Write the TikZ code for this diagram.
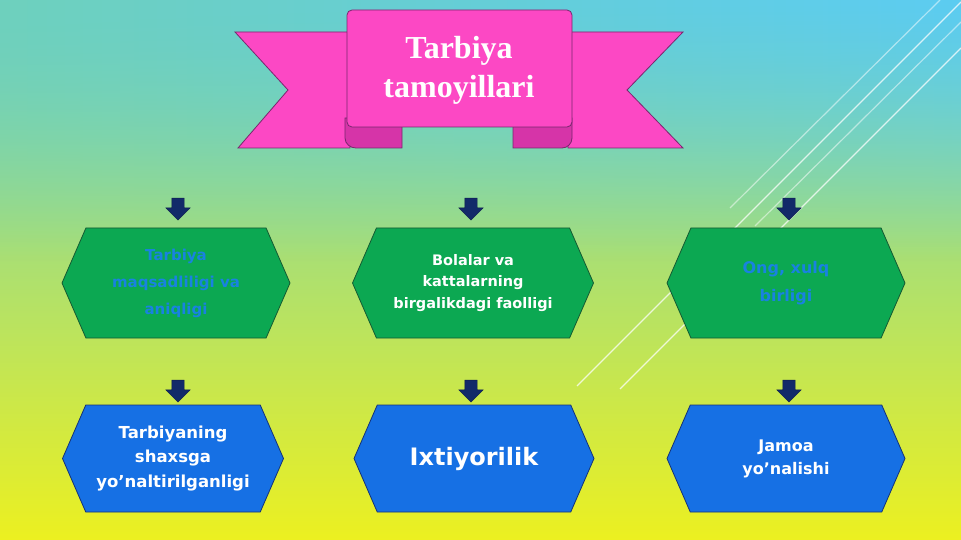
\documentclass[tikz,border=0pt]{standalone}
\usepackage{fontspec}
\setmainfont{Liberation Serif}
\setsansfont{DejaVu Sans}
\usetikzlibrary{shapes,arrows,positioning,calc,fadings}

\definecolor{bannerpink}{RGB}{252,72,196}
\definecolor{bannerfold}{RGB}{214,52,168}
\definecolor{banneredge}{RGB}{120,40,110}
\definecolor{hexgreen}{RGB}{12,168,82}
\definecolor{hexgreenedge}{RGB}{20,90,50}
\definecolor{hexblue}{RGB}{22,112,228}
\definecolor{hexblueedge}{RGB}{20,50,120}
\definecolor{arrownavy}{RGB}{18,42,105}
\definecolor{faintblue}{RGB}{25,130,225}
\definecolor{bgtopleft}{RGB}{110,208,190}
\definecolor{bgtopright}{RGB}{92,204,242}
\definecolor{bgmid}{RGB}{172,228,140}
\definecolor{bgbot}{RGB}{236,240,32}

\tikzset{
  hexbox/.style={signal, signal to=west and east, signal pointer angle=133,
    minimum height=110, inner sep=0, align=center, line width=0.8pt,
    font=\sffamily\bfseries},
  greenbox/.style={hexbox, fill=hexgreen, draw=hexgreenedge},
  bluebox/.style={hexbox, fill=hexblue, draw=hexblueedge, text=white, minimum height=107},
  downarrow/.style={single arrow, shape border rotate=270, fill=arrownavy,
    draw=arrownavy!70!black, minimum height=22, minimum width=24,
    single arrow head extend=6, inner sep=6pt},
  deco/.style={white, line width=1.2pt, opacity=0.75}
}

\begin{document}
\begin{tikzpicture}[x=1pt,y=-1pt]
    \useasboundingbox (0,0) rectangle (961,540);
    % background
    \shade[top color=bgtopleft, middle color=bgmid, bottom color=bgbot] (0,0) rectangle (961,540);
    \shade[left color=bgtopleft, right color=bgtopright, path fading=south] (0,0) rectangle (961,260);
    \draw[deco] (961,2) -- (577,386);
    \draw[deco] (961,48) -- (620,389);
    \draw[deco, opacity=.5] (940,0) -- (730,208);
    \draw[deco, opacity=.5] (961,22) -- (755,226);

    % banner
    \draw[fill=bannerpink, draw=banneredge, line width=0.8pt] (350,32) -- (235,32) -- (288,90) -- (238,148) -- (350,148) -- cycle;
    \draw[fill=bannerpink, draw=banneredge, line width=0.8pt] (568,32) -- (683,32) -- (627,90) -- (683,148) -- (568,148) -- cycle;
    \draw[fill=bannerfold, draw=banneredge, line width=0.8pt] (402,118) -- (402,148) -- (356,148) to[out=180,in=270] (345,138) -- (345,118) -- cycle;
    \draw[fill=bannerfold, draw=banneredge, line width=0.8pt] (513,118) -- (513,148) -- (562,148) to[out=0,in=270] (572,138) -- (572,118) -- cycle;
    \draw[fill=bannerpink, draw=banneredge, line width=0.8pt, rounded corners=5] (347,10) rectangle (572,127);
    \node[text=white, font=\fontsize{32}{39}\selectfont\bfseries, align=center] (title) at (459,70) {Tarbiya\\tamoyillari};

    % first row
    \node[greenbox, minimum width=228, text=faintblue, font=\sffamily\bfseries\fontsize{15}{27}\selectfont] (maqsad) at (176,283) {Tarbiya\\maqsadliligi va\\aniqligi};
    \node[greenbox, minimum width=241, text=white, font=\sffamily\bfseries\fontsize{14.5}{21.5}\selectfont] (faollik) at (473,283) {Bolalar va\\kattalarning\\birgalikdagi faolligi};
    \node[greenbox, minimum width=238, text=faintblue, font=\sffamily\bfseries\fontsize{16}{28}\selectfont] (birlik) at (786,283) {Ong, xulq\\birligi};

    % second row
    \node[bluebox, minimum width=221, font=\sffamily\bfseries\fontsize{16.5}{24.5}\selectfont] (shaxs) at (173,458.5) {Tarbiyaning\\shaxsga\\yo’naltirilganligi};
    \node[bluebox, minimum width=240, font=\sffamily\bfseries\fontsize{24}{28}\selectfont] (ixtiyor) at (474,458.5) {Ixtiyorilik};
    \node[bluebox, minimum width=238, font=\sffamily\bfseries\fontsize{16}{23}\selectfont] (jamoa) at (786,458.5) {Jamoa\\yo’nalishi};

    % arrows
    \node[downarrow] (arA) at (178,206) {};
    \node[downarrow] (arB) at (471,206) {};
    \node[downarrow] (arC) at (789,206) {};
    \node[downarrow] (arD) at (178,388) {};
    \node[downarrow] (arE) at (471,388) {};
    \node[downarrow] (arF) at (789,388) {};
\end{tikzpicture}
\end{document}
